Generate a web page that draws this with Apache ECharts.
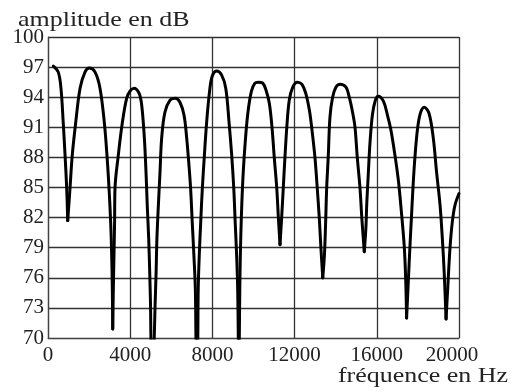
<!DOCTYPE html>
<html>
<head>
<meta charset="utf-8">
<script src="https://cdn.jsdelivr.net/npm/echarts@6/dist/echarts.min.js"></script>
<style>
  html, body { margin: 0; padding: 0; background: #fff; }
  #chart { width: 523px; height: 392px; }
</style>
</head>
<body>
<div id="chart"></div>
<script>
// frequency (Hz) and amplitude (dB)
const freqHz = [
  260, 500, 630, 740, 830, 910, 960, 1070, 1180, 1350, 1560, 1800, 2010,
  2290, 2530, 2740, 2870, 2970, 3050, 3100, 3130, 3150,
  3180, 3210, 3240, 3260, 3420, 3620, 3830, 3990, 4180,
  4430, 4560, 4690, 4770, 4830, 4900, 4950, 4990, 5010, 5090,
  5170, 5210, 5260, 5300, 5370, 5450, 5530, 5690, 5940, 6200,
  6420, 6620, 6750, 6860, 6940, 7020, 7100, 7170, 7200, 7250,
  7290, 7310, 7360, 7430, 7510, 7610, 7720, 7880, 8010, 8210,
  8450, 8650, 8810, 8940, 9040, 9110, 9180, 9230, 9260, 9285,
  9310, 9340, 9380, 9430, 9500, 9600, 9730, 9900, 10070, 10230,
  10450, 10610, 10770, 10900, 11010, 11130, 11210, 11290,
  11370, 11450, 11530, 11620, 11740, 11910, 12130,
  12350, 12540, 12720, 12830, 12990, 13100, 13200, 13280, 13370,
  13450, 13510, 13560, 13640, 13720, 13850, 14010, 14210,
  14500, 14660, 14830, 14940, 15050, 15180, 15270, 15340, 15390,
  15470, 15510, 15590, 15670, 15790, 15930, 16070,
  16320, 16520, 16680, 16870, 17050, 17200, 17330, 17400, 17450,
  17530, 17610, 17700, 17780, 17870, 17980, 18120, 18310,
  18540, 18750, 18910, 19080, 19190, 19280, 19370,
  19450, 19560, 19670, 19800, 20000
];
const amplitudeDb = [
  97.1, 96.5, 94.9, 91.5, 88.2, 84.9, 81.7, 84.9, 88.2, 91.5, 94.9, 96.5, 96.9,
  96.5, 94.9, 91.5, 88.2, 84.9, 81.5, 78.2, 74.9, 70.9,
  74.9, 78.2, 81.5, 84.9, 88.2, 91.5, 93.9, 94.6, 94.9,
  94.4, 93.2, 89.9, 86.5, 83.2, 79.9, 76.5, 73.2, 70.0, 65,
  70.0, 73.2, 76.5, 79.9, 83.2, 86.5, 89.9, 92.5, 93.7, 93.9,
  93.5, 92.2, 89.9, 87.2, 84.9, 81.5, 78.2, 74.9, 70.0, 65,
  70.0, 74.9, 78.2, 81.5, 84.9, 88.2, 91.5, 94.9, 96.2, 96.6,
  96.2, 94.9, 91.5, 88.2, 84.9, 81.5, 78.2, 74.9, 70.0, 65,
  70.0, 76.0, 80.0, 83.3, 86.5, 89.6, 92.5, 94.6, 95.4, 95.5,
  95.4, 94.7, 93.4, 91.0, 88.0, 85.0, 82.0, 79.3,
  82.0, 85.0, 88.0, 91.0, 93.7, 95.0, 95.5,
  95.3, 94.4, 92.7, 91.0, 88.0, 85.0, 82.0, 79.0, 76.0,
  78.2, 81.5, 84.9, 88.2, 92.0, 94.0, 95.0, 95.3,
  95.0, 94.0, 92.4, 91.0, 88.0, 85.0, 82.0, 80.0, 78.6,
  81.0, 83.3, 86.5, 89.5, 92.3, 93.7, 94.1,
  93.6, 92.2, 90.8, 88.4, 85.7, 82.5, 79.3, 76.2, 72.0,
  75.5, 79.0, 82.6, 85.7, 88.4, 90.8, 92.4, 93.0,
  92.4, 89.9, 86.5, 83.2, 79.9, 76.5, 71.9,
  74.9, 78.9, 81.5, 83.2, 84.4
];

const yMin = 70, yMax = 100, yStep = 3;
const xMin = 0, xMax = 20000, xStep = 4000;

// split the curve into lobes at its notches so each lobe can be smoothed
// while the notches stay sharp
const lobes = [];
let cur = [];
freqHz.forEach((f, i) => {
  cur.push([f, amplitudeDb[i]]);
  const prev = amplitudeDb[i - 1], next = amplitudeDb[i + 1];
  if (i > 0 && next !== undefined && amplitudeDb[i] < prev && amplitudeDb[i] < next) {
    lobes.push(cur);
    cur = [[f, amplitudeDb[i]]];
  }
});
lobes.push(cur);

const serif = "Liberation Serif";
const ink = "#222";
const chart = echarts.init(document.getElementById("chart"), null, { renderer: "canvas" });

chart.setOption({
  animation: false,
  backgroundColor: "#fff",
  textStyle: { fontFamily: serif },
  // the source scan is a little stretched sideways, hence scaleX on the names
  graphic: [
    {
      type: "text",
      x: 18,
      y: 20,
      scaleX: 1.18,
      style: { text: "amplitude en dB", font: "22px " + serif, fill: ink, align: "left", verticalAlign: "middle" },
    },
    {
      type: "text",
      x: 508,
      y: 376,
      scaleX: 1.18,
      style: { text: "fréquence en Hz", font: "22px " + serif, fill: ink, align: "right", verticalAlign: "middle" },
    },
  ],
  grid: { left: 48, right: 64, top: 37, bottom: 54 },
  xAxis: {
    type: "value",
    min: xMin,
    max: xMax,
    interval: xStep,
    axisLine: { lineStyle: { color: "#444", width: 1.2 } },
    axisTick: { show: false },
    axisLabel: {
      fontFamily: serif,
      fontSize: 21,
      color: ink,
      margin: 7,
      formatter: (v) => (v === xMax ? "{last|" + v + "}" : String(v)),
      rich: { last: { fontFamily: serif, fontSize: 21, color: ink, padding: [0, 14, 0, 0] } },
    },
    splitLine: { show: true, lineStyle: { color: "#333", width: 1.3 } },
  },
  yAxis: {
    type: "value",
    min: yMin,
    max: yMax,
    interval: yStep,
    axisLine: { show: true, lineStyle: { color: "#444", width: 1.2 } },
    axisTick: { show: false },
    axisLabel: { fontFamily: serif, fontSize: 21, color: ink, margin: 4 },
    splitLine: { show: true, lineStyle: { color: "#333", width: 1.3 } },
  },
  series: lobes.map((pts) => ({
    type: "line",
    data: pts,
    showSymbol: false,
    smooth: 0.35,
    clip: true,
    lineStyle: { color: "#000", width: 3, join: "round", cap: "round" },
  })),
});
</script>
</body>
</html>
